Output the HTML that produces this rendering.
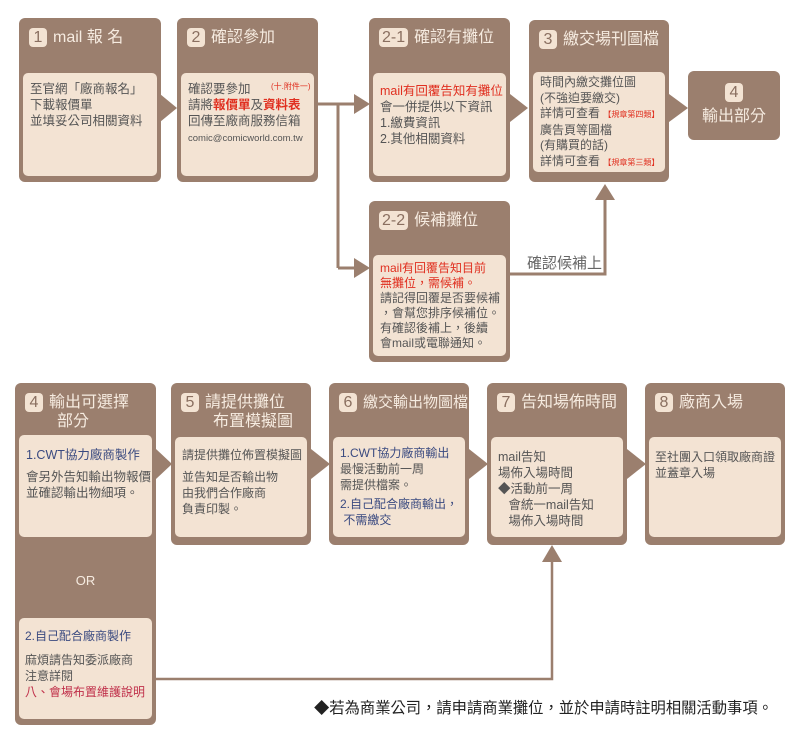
<!DOCTYPE html>
<html><head><meta charset="utf-8">
<style>
body{margin:0;width:800px;height:739px;background:#fff;position:relative;overflow:hidden;font-family:"Liberation Sans","Noto Sans CJK TC",sans-serif;}
.b{position:absolute;background:#9b7f6e;border-radius:6px;overflow:hidden;}
.h{position:absolute;left:10px;top:10px;color:#f6ebe0;font-size:16px;line-height:19px;white-space:nowrap;}
.n{display:inline-block;background:#f3e3d3;color:#8a6f60;border-radius:4px;padding:0 3px;min-width:12px;text-align:center;margin-right:6px;font-size:16px;line-height:19px;}
.i{position:absolute;left:4px;right:4px;background:#f3e3d3;border-radius:5px;color:#555;font-size:12.5px;line-height:16px;padding:8px 7px;box-sizing:border-box;white-space:nowrap;overflow:hidden;}
.r{color:#e03020;}
.bl{color:#3a4a80;}
.s{font-size:8px;color:#e03020;}
svg{position:absolute;left:0;top:0;}
</style></head><body>
<svg width="800" height="739">
<g fill="#9b7f6e" stroke="#9b7f6e">
<polygon points="160,94 177,108 160,122" stroke="none"/>
<polygon points="510,94 528,108 510,122" stroke="none"/>
<polygon points="669,94 688,108 669,122" stroke="none"/>
<line x1="318" y1="104" x2="356" y2="104" stroke-width="3"/>
<polygon points="354,94 370,104 354,114" stroke="none"/>
<line x1="338" y1="104" x2="338" y2="268" stroke-width="3"/>
<line x1="338" y1="268" x2="356" y2="268" stroke-width="3"/>
<polygon points="354,258 370,268 354,278" stroke="none"/>
<polyline points="510,274 605,274 605,200" fill="none" stroke-width="3"/>
<polygon points="595,200 605,184 615,200" stroke="none"/>
<polygon points="156,449 172,464 156,479" stroke="none"/>
<polygon points="311,449 330,464 311,479" stroke="none"/>
<polygon points="469,449 488,464 469,479" stroke="none"/>
<polygon points="627,449 646,464 627,479" stroke="none"/>
<polyline points="156,679 552,679 552,560" fill="none" stroke-width="2.5"/>
<polygon points="542,562 552,545 562,562" stroke="none"/>
</g>
<text x="527" y="268" font-size="15" fill="#666" font-family="Liberation Sans,Noto Sans CJK TC,sans-serif">確認候補上</text>
</svg>

<div class="b" style="left:19px;top:18px;width:142px;height:164px">
<div class="h"><span class="n">1</span>mail 報 名</div>
<div class="i" style="top:55px;height:103px">至官網「廠商報名」<br>下載報價單<br>並填妥公司相關資料</div></div>

<div class="b" style="left:177px;top:18px;width:141px;height:164px">
<div class="h"><span class="n">2</span>確認參加</div>
<div class="i" style="top:55px;height:103px">確認要參加<br>請將<span class="r" style="font-weight:bold">報價單</span>及<span class="r" style="font-weight:bold">資料表</span><span class="s" style="position:absolute;left:90px;top:6px">(十.附件一)</span><br>回傳至廠商服務信箱<br><span style="font-size:9.5px">comic@comicworld.com.tw</span></div></div>

<div class="b" style="left:369px;top:18px;width:141px;height:164px">
<div class="h"><span class="n">2-1</span>確認有攤位</div>
<div class="i" style="top:55px;height:103px;padding-top:10px"><span class="r">mail有回覆告知有攤位</span><br>會一併提供以下資訊<br>1.繳費資訊<br>2.其他相關資料</div></div>

<div class="b" style="left:529px;top:20px;width:140px;height:162px">
<div class="h"><span class="n">3</span>繳交場刊圖檔</div>
<div class="i" style="top:52px;height:100px;padding-top:3px;font-size:12px;line-height:15.5px">時間內繳交攤位圖<br>(不強迫要繳交)<br>詳情可查看 <span class="s">【規章第四類】</span><br>廣告頁等圖檔<br>(有購買的話)<br>詳情可查看 <span class="s">【規章第三類】</span></div></div>

<div class="b" style="left:688px;top:71px;width:92px;height:69px;text-align:center;color:#f6ebe0;font-size:16px">
<div style="margin-top:12px"><span class="n" style="margin:0">4</span></div><div>輸出部分</div></div>

<div class="b" style="left:369px;top:201px;width:141px;height:161px">
<div class="h"><span class="n">2-2</span>候補攤位</div>
<div class="i" style="top:54px;height:101px;padding-top:6px;font-size:12px;line-height:15px"><span class="r">mail有回覆告知目前<br>無攤位，需候補。</span><br>請記得回覆是否要候補<br>，會幫您排序候補位。<br>有確認後補上，後續<br>會mail或電聯通知。</div></div>

<div class="b" style="left:15px;top:383px;width:141px;height:342px">
<div class="h"><span class="n">4</span>輸出可選擇<br><span style="margin-left:32px">部分</span></div>
<div class="i" style="top:52px;height:102px;padding-top:12px"><span class="bl">1.CWT協力廠商製作</span><br><div style="height:6px"></div>會另外告知輸出物報價<br>並確認輸出物細項。</div>
<div style="position:absolute;left:0;right:0;top:190px;text-align:center;color:#f6ebe0;font-size:13px">OR</div>
<div class="i" style="top:235px;height:101px;padding:10px 6px;font-size:12px"><span class="bl">2.自己配合廠商製作</span><br><div style="height:8px"></div>麻煩請告知委派廠商<br>注意詳閱<br><span style="color:#c0304a">八、會場布置維護說明</span></div></div>

<div class="b" style="left:171px;top:383px;width:140px;height:162px">
<div class="h" style="text-align:left"><span class="n">5</span>請提供攤位<br><span style="margin-left:32px">布置模擬圖</span></div>
<div class="i" style="top:54px;height:100px;padding-top:10px;font-size:12px">請提供攤位佈置模擬圖<br><div style="height:6px"></div>並告知是否輸出物<br>由我們合作廠商<br>負責印製。</div></div>

<div class="b" style="left:329px;top:383px;width:140px;height:162px">
<div class="h" style="font-size:15px"><span class="n">6</span>繳交輸出物圖檔</div>
<div class="i" style="top:54px;height:100px;padding-top:8px;font-size:12px"><span class="bl">1.CWT協力廠商輸出</span><br>最慢活動前一周<br>需提供檔案。<br><div style="height:3px"></div><span class="bl">2.自己配合廠商輸出，<br>&nbsp;不需繳交</span></div></div>

<div class="b" style="left:487px;top:383px;width:140px;height:162px">
<div class="h"><span class="n">7</span>告知場佈時間</div>
<div class="i" style="top:54px;height:100px;padding-top:12px">mail告知<br>場佈入場時間<br>◆活動前一周<br>&nbsp;&nbsp;&nbsp;會統一mail告知<br>&nbsp;&nbsp;&nbsp;場佈入場時間</div></div>

<div class="b" style="left:645px;top:383px;width:140px;height:162px">
<div class="h"><span class="n">8</span>廠商入場</div>
<div class="i" style="top:54px;height:100px;padding-top:12px;padding-left:6px;font-size:12px">至社團入口領取廠商證<br>並蓋章入場</div></div>

<div style="position:absolute;left:314px;top:696px;font-size:15.3px;color:#222;white-space:nowrap">◆若為商業公司，請申請商業攤位，並於申請時註明相關活動事項。</div>
</body></html>
